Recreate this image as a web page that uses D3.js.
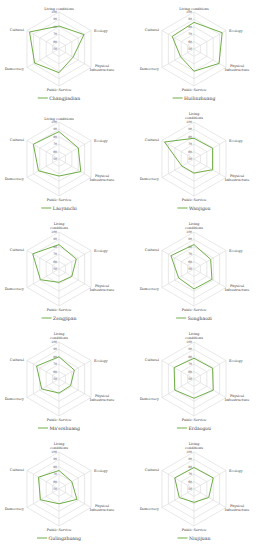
<!DOCTYPE html>
<html>
<head>
<meta charset="UTF-8">
<script src="https://d3js.org/d3.v7.min.js"></script>
<style>
  body { margin: 0; background: #fff; }
  svg text { font-family: "DejaVu Serif", "Liberation Serif", serif; fill: #404040; }
</style>
</head>
<body>
<div id="chart"></div>
<script>
// axes, clockwise from the top
var axes = ["Living conditions", "Ecology", "Physical Infrastructure", "Public Service", "Democracy", "Cultural"];
var villages = ["Changjiadian", "Huilinzhuang", "Laoyanchi", "Wanjigou", "Zengjipan",
                "Songhaozi", "Ma'ershuang", "Erdaogou", "Gulingzhuang", "Niujijuan"];
var ticks = [50, 60, 70, 80, 90, 100];

var changjiadian = [81, 89, 72, 82, 88, 96];
var huilinzhuang = [86, 94, 89, 80, 71, 84];
var laoyanchi    = [87, 80, 84, 73, 82, 90];
var wanjigou     = [78, 79, 79, 69, 69, 96];
var zengjipan    = [83, 77, 70, 68, 79, 91];
var songhaozi    = [83, 76, 78, 77, 74, 86];
var maershuang   = [80, 74, 68, 69, 77, 85];
var erdaogou     = [78, 79, 80, 76, 80, 81];
var gulingzhuang = [75, 70, 78, 70, 79, 82];
var niujijuan    = [79, 80, 73, 68, 73, 80];
var series = [changjiadian, huilinzhuang, laoyanchi, wanjigou, zengjipan,
              songhaozi, maershuang, erdaogou, gulingzhuang, niujijuan];

var W = 262, H = 550, R = 37;
var green = "#70ad47", grid = "#d9d9d9";

var svg = d3.select("#chart").append("svg").attr("width", W).attr("height", H);
var r = d3.scaleLinear().domain([50, 100]).range([0, R]);
var ang = d3.scalePoint().domain(axes).range([0, 2 * Math.PI * 5 / 6]);

function pt(a, v) {
  var t = ang(a);
  return [Math.sin(t) * r(v), -Math.cos(t) * r(v)];
}

villages.forEach(function(name, i) {
  var col = i % 2, row = Math.floor(i / 2);
  var cx = col === 0 ? 59 : 131 + 63;
  var cy = row * 110 + 49;
  var g = svg.append("g").attr("transform", "translate(" + cx + "," + cy + ")");

  // rings
  ticks.slice(1).forEach(function(t) {
    g.append("path")
      .attr("d", d3.line()(axes.map(function(a) { return pt(a, t); })) + "Z")
      .attr("fill", "none").attr("stroke", grid).attr("stroke-width", 0.6);
  });
  // spokes
  axes.forEach(function(a) {
    var p = pt(a, 100);
    g.append("line").attr("x1", 0).attr("y1", 0).attr("x2", p[0]).attr("y2", p[1])
      .attr("stroke", grid).attr("stroke-width", 0.6);
  });
  // tick labels
  ticks.forEach(function(t) {
    g.append("text").attr("x", -2).attr("y", -r(t)).attr("dy", "0.35em")
      .attr("text-anchor", "end").attr("font-size", 3).text(t);
  });

  // axis labels
  var fs = 3.4;
  var wrapTop = i >= 3;
  var top = g.append("text").attr("text-anchor", "middle").attr("font-size", fs);
  if (wrapTop) {
    top.append("tspan").attr("x", 0).attr("y", -R - 7).text("Living");
    top.append("tspan").attr("x", 0).attr("y", -R - 3).text("conditions");
  } else {
    top.append("tspan").attr("x", 0).attr("y", -R - 2.5).text(axes[0]);
  }
  var pE = pt(axes[1], 100);
  g.append("text").attr("x", pE[0] + 3).attr("y", pE[1]).attr("dy", "0.35em")
    .attr("font-size", fs).text(axes[1]);
  var pP = pt(axes[2], 100);
  var phys = g.append("text").attr("text-anchor", "middle").attr("font-size", fs);
  phys.append("tspan").attr("x", pP[0] + 11).attr("y", pP[1] - 0.5).text("Physical");
  phys.append("tspan").attr("x", pP[0] + 11).attr("y", pP[1] + 3.8).text("Infrastructure");
  g.append("text").attr("x", 0).attr("y", R + 5).attr("text-anchor", "middle")
    .attr("font-size", fs).text(axes[3]);
  var pD = pt(axes[4], 100);
  g.append("text").attr("x", pD[0] - 3).attr("y", pD[1] + 1.5).attr("dy", "0.35em")
    .attr("text-anchor", "end").attr("font-size", fs).text(axes[4]);
  var pC = pt(axes[5], 100);
  g.append("text").attr("x", pC[0] - 3).attr("y", pC[1] - 1).attr("dy", "0.35em")
    .attr("text-anchor", "end").attr("font-size", fs).text(axes[5]);

  // data polygon
  var vals = series[i];
  g.append("path")
    .attr("d", d3.line()(axes.map(function(a, k) { return pt(a, vals[k]); })) + "Z")
    .attr("fill", "none").attr("stroke", green).attr("stroke-width", 1)
    .attr("stroke-linejoin", "round");

  // legend
  var lg = g.append("g").attr("transform", "translate(0," + (R + 12) + ")");
  var lt = lg.append("text").attr("x", 0).attr("y", 0).attr("dy", "0.35em")
    .attr("font-size", 4.6).text(name);
  var tw = lt.node().getComputedTextLength();
  var total = 10 + 1.5 + tw;
  var x0 = -total / 2;
  lg.append("line").attr("x1", x0).attr("x2", x0 + 10).attr("y1", 0).attr("y2", 0)
    .attr("stroke", green).attr("stroke-width", 1);
  lt.attr("x", x0 + 11.5);
});
</script>
</body>
</html>
